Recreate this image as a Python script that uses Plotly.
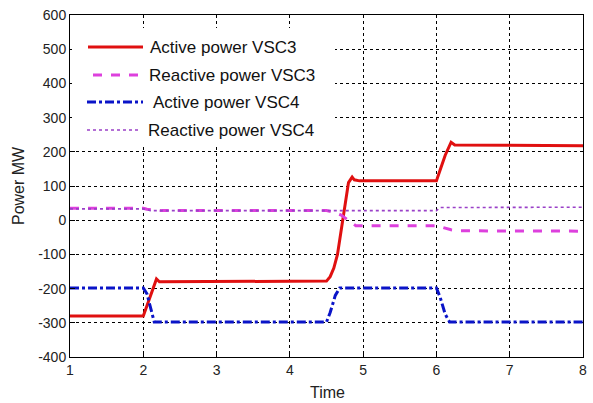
import plotly.graph_objects as go

# Breakpoints of each power trace (time in s, power in MW)
t_p3 = [1.0, 2.0, 2.05, 2.12, 2.18, 2.22, 4.5, 4.55, 4.6, 4.65, 4.7, 4.75, 4.8, 4.85, 4.88, 4.95, 6.0, 6.04, 6.12, 6.2, 6.25, 8.0]
p_p3 = [-280, -280, -250, -210, -172, -180, -178, -165, -140, -100, -30, 50, 110, 126, 118, 115, 115, 140, 190, 228, 220, 218]

t_q3 = [1.0, 2.0, 2.05, 2.15, 2.25, 4.5, 4.6, 4.7, 4.8, 4.9, 6.0, 6.1, 6.2, 6.3, 8.0]
q_q3 = [35, 35, 32, 29, 28, 28, 24, 15, 0, -16, -16, -22, -28, -31, -32]

t_p4 = [1.0, 2.0, 2.05, 2.1, 2.15, 4.5, 4.55, 4.62, 4.68, 6.0, 6.05, 6.12, 6.18, 8.0]
p_p4 = [-198, -198, -215, -260, -298, -298, -270, -220, -198, -198, -225, -275, -298, -298]

t_q4 = [1.0, 2.0, 2.1, 4.5, 4.7, 6.0, 6.05, 8.0]
q_q4 = [33, 33, 28, 28, 28, 28, 37, 38]

x_ticks = [1, 2, 3, 4, 5, 6, 7, 8]
y_ticks = [-400, -300, -200, -100, 0, 100, 200, 300, 400, 500, 600]
y_tick_text = [str(v) for v in y_ticks]  # plain hyphen for negatives

FONT = "Liberation Sans, Arial, sans-serif"

series = [
    ("Active power VSC3", t_p3, p_p3, dict(color="#e01010", width=3, dash="solid")),
    ("Reactive power VSC3", t_q3, q_q3, dict(color="#dd40dd", width=3, dash="dash")),
    ("Active power VSC4", t_p4, p_p4, dict(color="#0a14c8", width=3, dash="dashdot")),
    ("Reactive power VSC4", t_q4, q_q4, dict(color="#9a40c8", width=1.6, dash="dot")),
]

fig = go.Figure()
for name, t, v, ln in series:
    fig.add_trace(go.Scatter(x=t, y=v, mode="lines", name=name, line=ln, showlegend=False))

axis_common = dict(
    showline=True, linecolor="black", linewidth=1, mirror=True,
    ticks="inside", ticklen=5, tickcolor="black",
    showgrid=True, gridcolor="black", gridwidth=1, griddash="dot",
    zeroline=False, automargin=False,
    tickfont=dict(family=FONT, size=14, color="#222"),
)

fig.update_xaxes(range=[1, 8], tickvals=x_ticks, **axis_common)
fig.update_yaxes(range=[-400, 600], tickvals=y_ticks, ticktext=y_tick_text, **axis_common)

# Plot area in pixels
L, T, W, H = 70, 15, 513, 342


def px_x(p):
    return (p - L) / W


def px_y(p):
    return (T + H - p) / H


# Legend box drawn in paper coordinates: white panel, line samples, labels
shapes = [dict(type="rect", xref="paper", yref="paper", layer="above",
               x0=px_x(72), x1=px_x(335), y0=px_y(147), y1=px_y(28),
               fillcolor="white", line=dict(width=0))]
annotations = []
rows = [47, 75, 102, 130]
seg = [(88, 143), (93, 138), (87, 143), (87, 138)]
text_x = [148, 147, 151, 146]
for (name, _, _, ln), ry, (sx0, sx1), tx in zip(series, rows, seg, text_x):
    shapes.append(dict(type="line", xref="paper", yref="paper", layer="above",
                       x0=px_x(sx0), x1=px_x(sx1), y0=px_y(ry), y1=px_y(ry),
                       line=dict(color=ln["color"], width=ln["width"], dash=ln["dash"])))
    annotations.append(dict(text=name, xref="paper", yref="paper", x=px_x(tx), y=px_y(ry),
                            xanchor="left", yanchor="middle", showarrow=False,
                            font=dict(family=FONT, size=17, color="#111")))

# Axis titles
annotations.append(dict(text="Time", xref="paper", yref="paper", x=px_x(327), y=px_y(392),
                        xanchor="center", yanchor="middle", showarrow=False,
                        font=dict(family=FONT, size=16, color="#222")))
annotations.append(dict(text="Power MW", xref="paper", yref="paper", x=px_x(18), y=px_y(186),
                        xanchor="center", yanchor="middle", showarrow=False, textangle=-90,
                        font=dict(family=FONT, size=16, color="#222")))

fig.update_layout(
    width=593, height=403,
    margin=dict(l=L, r=593 - L - W, t=T, b=403 - T - H),
    paper_bgcolor="white", plot_bgcolor="white",
    showlegend=False,
    shapes=shapes, annotations=annotations,
)

fig.write_html("out.html")
